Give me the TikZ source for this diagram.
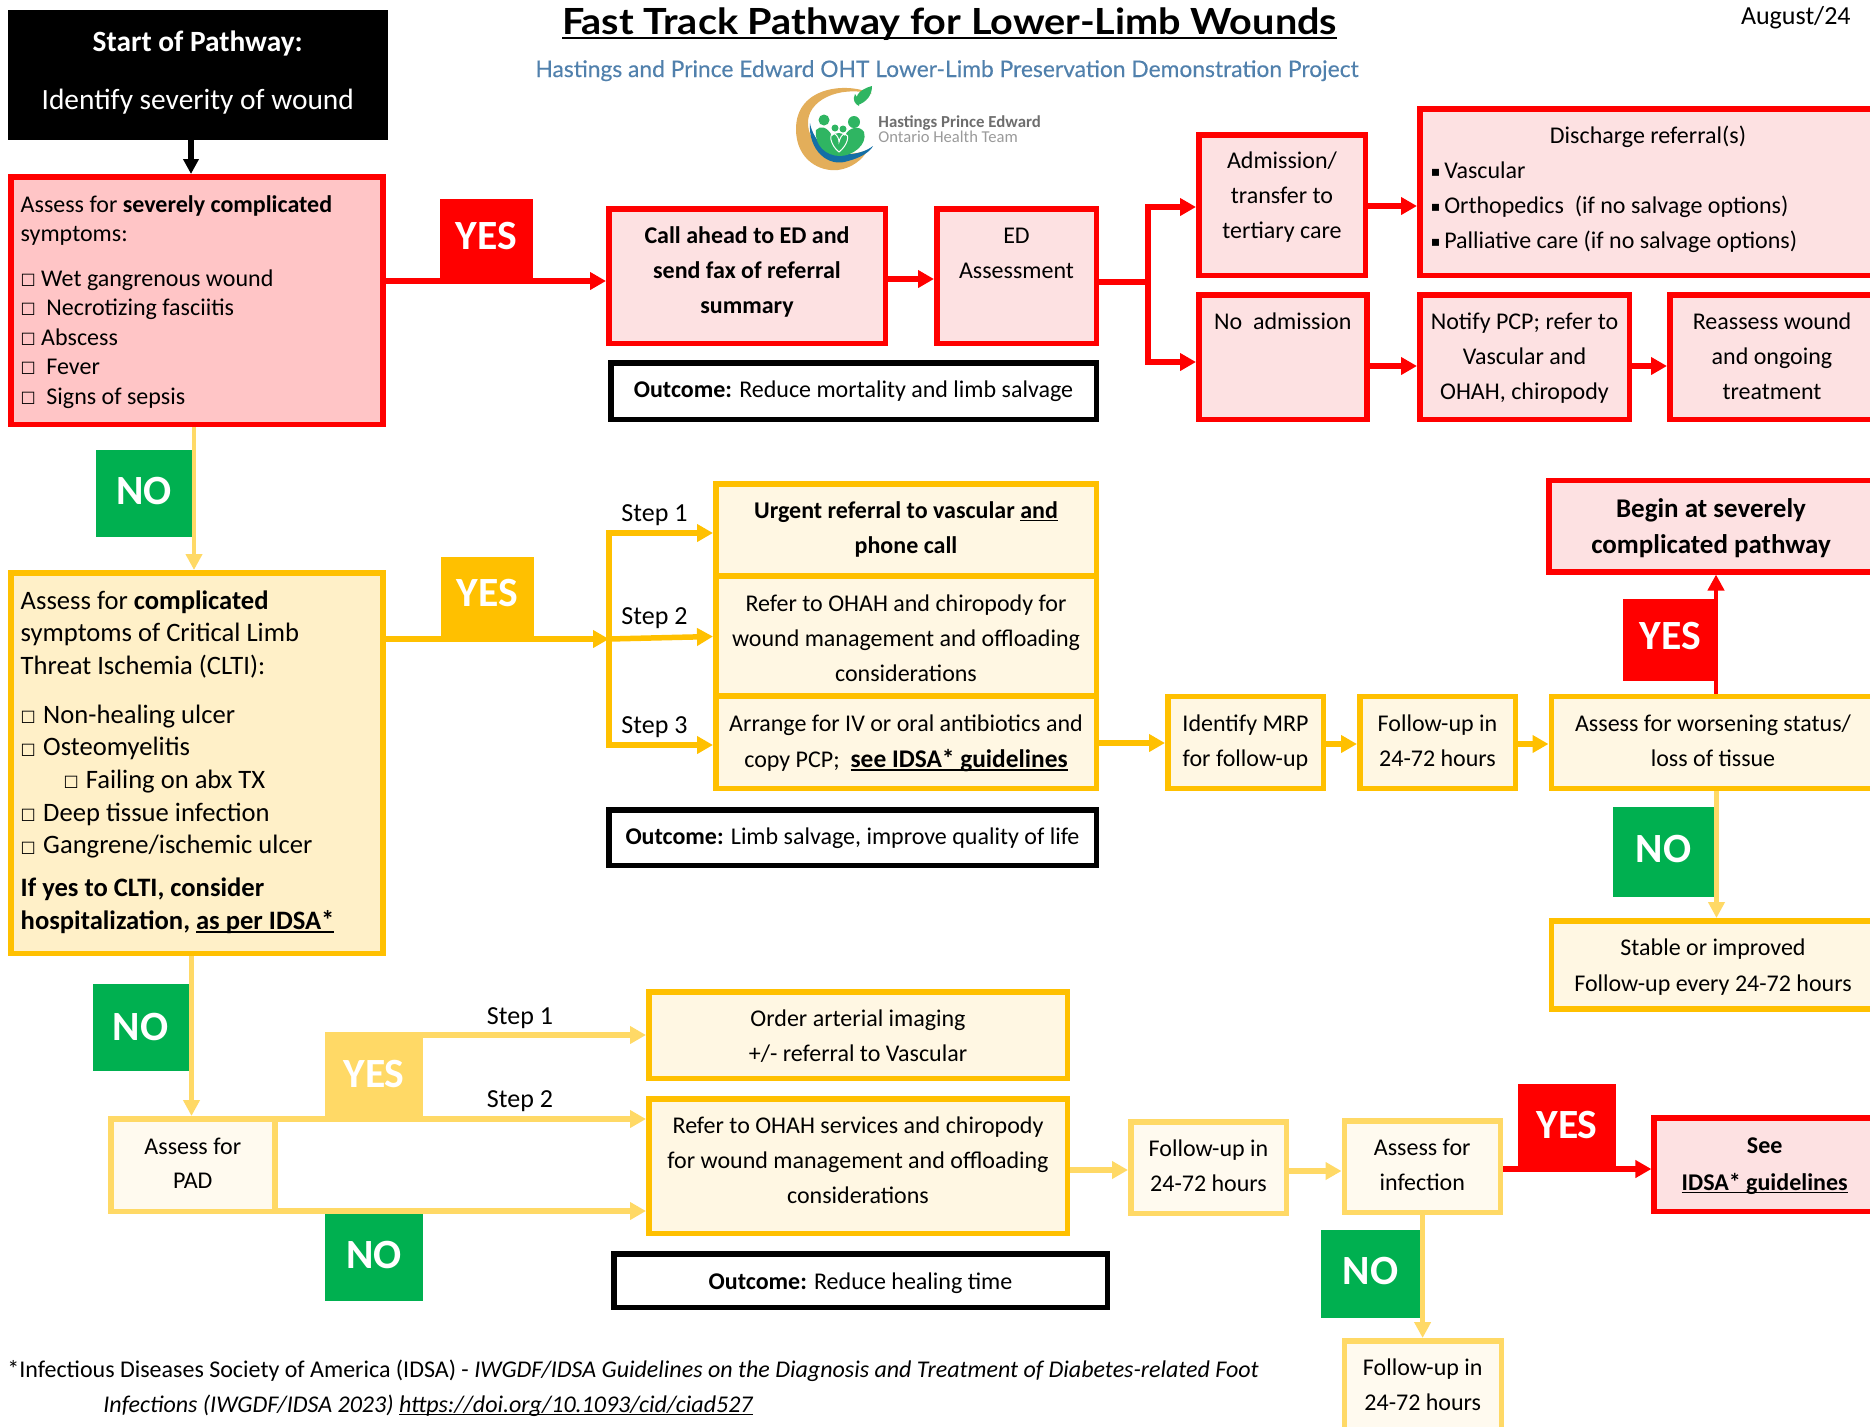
\documentclass[tikz,border=0pt]{standalone}
\usepackage{fontspec}
\setmainfont{Carlito}
\newfontfamily\djv{DejaVu Sans}
\newfontfamily\lato[FakeStretch=1.1]{Lato}
\newfontfamily\latosub[FakeBold=0.25]{Lato}
\usetikzlibrary{arrows.meta}
\definecolor{rd}{HTML}{FF0000}
\definecolor{palered}{HTML}{FDE1E2}
\definecolor{sevfill}{HTML}{FFC5C6}
\definecolor{amb}{HTML}{FFC000}
\definecolor{paleamb}{HTML}{FFF7E3}
\definecolor{compfill}{HTML}{FFF0C8}
\definecolor{lightamb}{HTML}{FFD966}
\definecolor{padfill}{HTML}{FFFAEF}
\definecolor{grn}{HTML}{00B050}
\definecolor{subblue}{HTML}{5080AC}
\definecolor{logoorange}{HTML}{E3AE5A}
\definecolor{logoblue}{HTML}{146FA6}
\definecolor{logogreen}{HTML}{2FB562}
\definecolor{logogrey}{HTML}{6E6E6E}
\definecolor{logolight}{HTML}{9A9A9A}
\newsavebox\ulbox
\newcommand{\ul}[1]{\leavevmode\sbox\ulbox{#1}\rlap{\rule[-.13em]{\wd\ulbox}{.06em}}\usebox\ulbox}
\newcommand{\cb}[1]{\makebox[#1][l]{\raisebox{.8pt}{\djv\fontsize{8}{8}\selectfont □}}}
\newcommand{\sq}{\raisebox{.8pt}{\djv\fontsize{7}{7}\selectfont ▪}\hspace*{2pt}}
\def\parsebox#1,#2,#3,#4;{\def\xa{#1}\def\ya{#2}\def\xb{#3}\def\yb{#4}}
\newcommand{\pbox}[7][12]{%
 \parsebox#3;%
 \pgfmathsetmacro\cxx{(\xa+\xb)/2}%
 \pgfmathsetmacro\cyy{(\ya+\yb)/2}%
 \pgfmathsetmacro\ww{(\xb-\xa-5.5)*0.5}%
 \pgfmathsetmacro\hh{(\yb-\ya-5.5)*0.5}%
 \pgfmathsetmacro\offs{(#5+1-\ya-2.75)*0.5-12}%
 \pgfmathsetmacro\bs{#6*0.5}%
 \node[#4,inner sep=0pt] (#2) at (\cxx,\cyy) {\parbox[c][\hh pt][t]{\ww pt}{\fontsize{#1}{\bs}\selectfont\vspace*{\offs pt}\centering\leavevmode\rule{0pt}{12pt}\ignorespaces #7}};}
\newcommand{\ptag}[5]{%
 \parsebox#2;%
 \pgfmathsetmacro\cxx{(\xa+\xb)/2}%
 \pgfmathsetmacro\cyy{(\ya+\yb)/2}%
 \pgfmathsetmacro\ww{(\xb-\xa)*0.5}%
 \pgfmathsetmacro\hh{(\yb-\ya)*0.5}%
 \pgfmathsetmacro\dd{(\cyy-#4)*0.5-7.25}%
 \node[tagbox,fill=#3,minimum width=\ww pt,minimum height=\hh pt] (#1) at (\cxx,\cyy) {\raisebox{\dd pt}[0pt][0pt]{#5}};}
\tikzset{
 redbox/.style={draw=rd,fill=palered,line width=2.75pt},
 sevbox/.style={draw=rd,fill=sevfill,line width=2.75pt},
 ambbox/.style={draw=amb,fill=paleamb,line width=2.75pt},
 compbox/.style={draw=amb,fill=compfill,line width=2.75pt},
 padbox/.style={draw=lightamb,fill=padfill,line width=2.75pt},
 outbox/.style={draw=black,fill=white,line width=2.75pt},
 tagbox/.style={inner sep=0pt,text=white,font=\fontsize{20.8}{24}\selectfont\bfseries},
 conn/.style={line width=2.75pt,-{Triangle[length=8pt,width=8.5pt]}},
 line/.style={line width=2.75pt},
 thinconn/.style={line width=2.3pt,-{Triangle[length=8pt,width=8pt]}},
 plain/.style={inner sep=0pt,font=\fontsize{13}{15}\selectfont},
}
\begin{document}
\begin{tikzpicture}[x=0.5pt,y=-0.5pt]
\useasboundingbox (0,0) rectangle (1870,1426);
\clip (0,0) rectangle (1870,1426);
% Title block
\node[inner sep=0pt,anchor=base,font=\lato\bfseries\fontsize{18}{20}\selectfont] (title) at (949.5,34) {\ul{Fast Track Pathway for Lower-Limb Wounds}};
\node[inner sep=0pt,anchor=base,text=subblue,font=\latosub\fontsize{11.4}{14}\selectfont] (subtitle) at (947,77) {Hastings and Prince Edward OHT Lower-Limb Preservation Demonstration Project};
\node[plain,anchor=base east] (date) at (1851,24) {August/24};
% Logo
\fill[logoorange] (872,94) .. controls (850,82) and (796,85) .. (796,129) .. controls (796,160) and (820,172) .. (838,170) .. controls (852,168) and (862,160) .. (868,150) .. controls (840,160) and (810,150) .. (808,125) .. controls (806,100) and (840,85) .. (872,94) -- cycle;
\fill[logoblue] (810,123) .. controls (808,150) and (828,168) .. (848,161) .. controls (860,158) and (870,152) .. (873,146) .. controls (860,156) and (836,158) .. (822,146) .. controls (815,138) and (811,130) .. (810,123) -- cycle;
\fill[logogreen] (824,120) circle [radius=5.5] (854,122) circle [radius=6] (835,128) circle [radius=3.5] (843,129) circle [radius=3.5];
\fill[logogreen] (816,130) .. controls (820,125) and (828,127) .. (832,136) .. controls (836,132) and (842,132) .. (845,136) .. controls (848,127) and (860,125) .. (864,132) .. controls (868,145) and (852,156) .. (840,156) .. controls (826,156) and (814,145) .. (816,130) -- cycle;
\draw[white,line width=.5pt] (839,152) .. controls (830,145) and (828,132) .. (835,134) .. controls (838,136) and (839,140) .. (839,142) .. controls (840,138) and (842,134) .. (845,134) .. controls (850,134) and (848,145) .. (839,152) -- cycle;
\fill[logogreen] (858,105) .. controls (854,98) and (857,90) .. (872,86) .. controls (872,96) and (866,102) .. (858,105) -- cycle;
\fill[logogreen] (859,106) .. controls (855,104) and (852,100) .. (855,94) .. controls (858,98) and (860,102) .. (859,106) -- cycle;
\node[inner sep=0pt,anchor=base west,text=logogrey,font=\bfseries\fontsize{8.4}{9}\selectfont] (logoa) at (878,127) {Hastings Prince Edward};
\node[inner sep=0pt,anchor=base west,text=logolight,font=\fontsize{8.3}{9}\selectfont] (logob) at (878,142) {Ontario Health Team};
% Start
\pbox[14.7]{start}{8,10,387.5,139.5}{draw=black,fill=black,line width=2.75pt,text=white}{50}{58}{\textbf{Start of Pathway:}\\ Identify severity of wound}
% Severely complicated
\pbox{sev}{8,174,385.5,427}{sevbox}{211}{29.5}{\raggedright\leftskip=5pt Assess for \textbf{severely complicated}\\ symptoms:\\[7.5pt]
\cb{10.25pt}Wet gangrenous wound\\ \cb{12.85pt}Necrotizing fasciitis\\ \cb{10.25pt}Abscess\\ \cb{12.85pt}Fever\\ \cb{12.85pt}Signs of sepsis}
\ptag{yesa}{440,199,533,278}{rd}{235}{YES}
\ptag{noa}{96,450,192,537}{grn}{490}{NO}
\pbox{call}{606,206,888,346}{redbox}{242}{35}{\bfseries Call ahead to ED and\\ send fax of referral\\ summary}
\pbox{ed}{934,206,1099,346}{redbox}{242}{35}{ED\\ Assessment}
\pbox{outa}{608,360,1099,422}{outbox}{396}{35}{\textbf{Outcome:} Reduce mortality and limb salvage}
\pbox{adm}{1196,132,1368,278}{redbox}{167}{35}{Admission/\\ transfer to\\ tertiary care}
\pbox{dis}{1417,106,1879,278}{redbox}{142}{35}{Discharge referral(s)\\ \raggedright\leftskip=5.5pt
\sq Vascular\\ \sq Orthopedics\ \ (if no salvage options)\\ \sq Palliative care (if no salvage options)}
\pbox{noadm}{1196,292,1369.5,422}{redbox}{328}{35}{No\ \ admission}
\pbox{notify}{1417,292,1632,422}{redbox}{328}{35}{Notify PCP; refer to\\ Vascular and\\ OHAH, chiropody}
\pbox{reass}{1667,292,1877,422}{redbox}{328}{35}{Reassess wound\\ and ongoing\\ treatment}
% Complicated
\pbox[13.3]{comp}{8,570,385.5,956}{compbox}{608}{32.7}{\raggedright\leftskip=5pt Assess for \textbf{complicated}\\ symptoms of Critical Limb\\ Threat Ischemia (CLTI):\\[8pt]
\cb{11.25pt}Non-healing ulcer\\ \cb{11.25pt}Osteomyelitis\\ \hspace*{21.5pt}\cb{11pt}Failing on abx TX\\ \cb{11.25pt}Deep tissue infection\\ \cb{11.25pt}Gangrene/ischemic ulcer\\[5pt]
\textbf{If yes to CLTI, consider}\\ \textbf{hospitalization, \ul{as per IDSA*}}}
\ptag{yesb}{441,557,534,637}{amb}{592}{YES}
\ptag{nob}{92.5,984,189,1071}{grn}{1026}{NO}
\pbox{urgent}{713,481,1099,578}{ambbox}{517}{35}{\bfseries Urgent referral to vascular \ul{and}\\ phone call}
\pbox{refer}{713,573,1099,699}{ambbox}{610}{35}{Refer to OHAH and chiropody for\\ wound management and offloading\\ considerations}
\pbox{arrange}{713,693,1099,791}{ambbox}{730}{36.5}{Arrange for IV or oral antibiotics and\\ copy PCP;\ \ {\fontsize{12.7}{12.7}\selectfont\textbf{\ul{see IDSA* guidelines}}}}
\pbox{outb}{606,807,1099,868}{outbox}{843}{35}{\textbf{Outcome:} Limb salvage, improve quality of life}
\node[plain,anchor=base] (stepa) at (654.5,521) {Step 1};
\node[plain,anchor=base] (stepb) at (654.5,624) {Step 2};
\node[plain,anchor=base] (stepc) at (654.5,733) {Step 3};
\pbox{ident}{1165,693.5,1326,791}{ambbox}{730}{35.5}{Identify MRP\\ for follow-up}
\pbox{fua}{1357,693.5,1518,791}{ambbox}{730}{35.5}{Follow-up in\\ 24-72 hours}
\pbox{wors}{1548.5,693.5,1877.5,791}{ambbox}{730}{35.5}{Assess for worsening status/\\ loss of tissue}
\pbox[13.5]{begin}{1546,477.5,1876,574.5}{redbox}{516}{36}{\bfseries Begin at severely\\ complicated pathway}
\ptag{yesc}{1623,599,1718,681}{rd}{634.5}{YES}
\ptag{noc}{1613,806.5,1714,897}{grn}{848}{NO}
\pbox{stable}{1548.5,918,1877.5,1011.6}{ambbox}{954.5}{35.5}{Stable or improved\\ Follow-up every 24-72 hours}
% PAD row
\pbox{pad}{108,1116,277.6,1214}{padbox}{1153}{34}{Assess for\\ PAD}
\ptag{yesd}{325,1032,423,1117}{lightamb}{1073}{YES}
\ptag{nod}{325,1214,423,1301}{grn}{1254}{NO}
\pbox{order}{646,989,1070,1081}{ambbox}{1025}{35}{Order arterial imaging\\ +/- referral to Vascular}
\pbox{referb}{646,1096,1070,1236}{ambbox}{1132}{35}{Refer to OHAH services and chiropody\\ for wound management and offloading\\ considerations}
\pbox{outc}{611,1251,1110,1310}{outbox}{1288}{35}{\textbf{Outcome:} Reduce healing time}
\node[plain,anchor=base] (stepd) at (520,1024) {Step 1};
\node[plain,anchor=base] (stepe) at (520,1107) {Step 2};
\pbox{fub}{1128,1119,1289,1216}{padbox}{1155}{35}{Follow-up in\\ 24-72 hours}
\pbox{infect}{1341.5,1118,1503,1215}{padbox}{1154}{35}{Assess for\\ infection}
\ptag{yese}{1518,1084,1616,1167}{rd}{1124}{YES}
\ptag{noe}{1321,1230,1420,1318}{grn}{1270}{NO}
\pbox{see}{1651.4,1115,1878,1214}{redbox}{1152}{37}{\bfseries See\\ \ul{IDSA* guidelines}}
\pbox{fuc}{1341.5,1338,1504,1440}{padbox}{1374}{35}{Follow-up in\\ 24-72 hours}
% Footer
\node[plain,anchor=base west,font=\fontsize{12}{14}\selectfont] (foota) at (7,1377) {*Infectious Diseases Society of America (IDSA) - \textit{IWGDF/IDSA Guidelines on the Diagnosis and Treatment of Diabetes-related Foot}};
\node[plain,anchor=base west,font=\fontsize{12}{14}\selectfont] (footb) at (103,1412) {\textit{Infections (IWGDF/IDSA 2023) \ul{https://doi.org/10.1093/cid/ciad527}}};
% Connectors
\coordinate (edj) at (1148,282);
\coordinate (brk) at (609,639);
\draw[line width=3pt,black,-{Triangle[length=7.5pt,width=7.5pt]}] (start.south -| 191,0) -- (sev.north -| 191,0);
\draw[conn,rd] (sev.east |- 0,281) -- (call.west |- 0,281);
\draw[conn,rd] (call.east |- 0,279) -- (ed.west |- 0,279);
\draw[line,rd] (ed.east |- 0,282) -- (edj);
\draw[conn,rd,line join=miter] (edj) |- (adm.west |- 0,207);
\draw[conn,rd,line join=miter] (edj) |- (noadm.west |- 0,362);
\draw[conn,rd] (adm.east |- 0,206) -- (dis.west |- 0,206);
\draw[conn,rd] (noadm.east |- 0,366) -- (notify.west |- 0,366);
\draw[conn,rd] (notify.east |- 0,366) -- (reass.west |- 0,366);
\draw[thinconn,lightamb] (sev.south -| 194,0) -- (comp.north -| 194,0);
\draw[conn,amb] (comp.east |- 0,639) -- (brk);
\draw[conn,amb,line join=miter] (brk) |- (urgent.west |- 0,533);
\draw[conn,amb,line join=miter] (brk) |- (arrange.west |- 0,745);
\draw[conn,amb] (brk) -- (refer.west |- 0,636.5);
\draw[conn,amb] (arrange.east |- 0,743) -- (ident.west |- 0,743);
\draw[conn,amb] (ident.east |- 0,744) -- (fua.west |- 0,744);
\draw[conn,amb] (fua.east |- 0,744) -- (wors.west |- 0,744);
\draw[thinconn,rd] (wors.north -| 1716,0) -- (begin.south -| 1716,0);
\draw[thinconn,lightamb] (wors.south -| 1716.5,0) -- (stable.north -| 1716.5,0);
\draw[thinconn,lightamb] (comp.south -| 191.5,0) -- (pad.north -| 191.5,0);
\draw[conn,lightamb] (yesd.east |- 0,1035) -- (order.west |- 0,1035);
\draw[conn,lightamb] (pad.east |- 0,1119) -- (referb.west |- 0,1119);
\draw[conn,lightamb] (pad.east |- 0,1211) -- (referb.west |- 0,1211);
\draw[conn,lightamb] (referb.east |- 0,1170) -- (fub.west |- 0,1170);
\draw[conn,lightamb] (fub.east |- 0,1171) -- (infect.west |- 0,1171);
\draw[conn,rd] (infect.east |- 0,1169) -- (see.west |- 0,1169);
\draw[thinconn,lightamb] (infect.south -| 1422.6,0) -- (fuc.north -| 1422.6,0);
\end{tikzpicture}
\end{document}
